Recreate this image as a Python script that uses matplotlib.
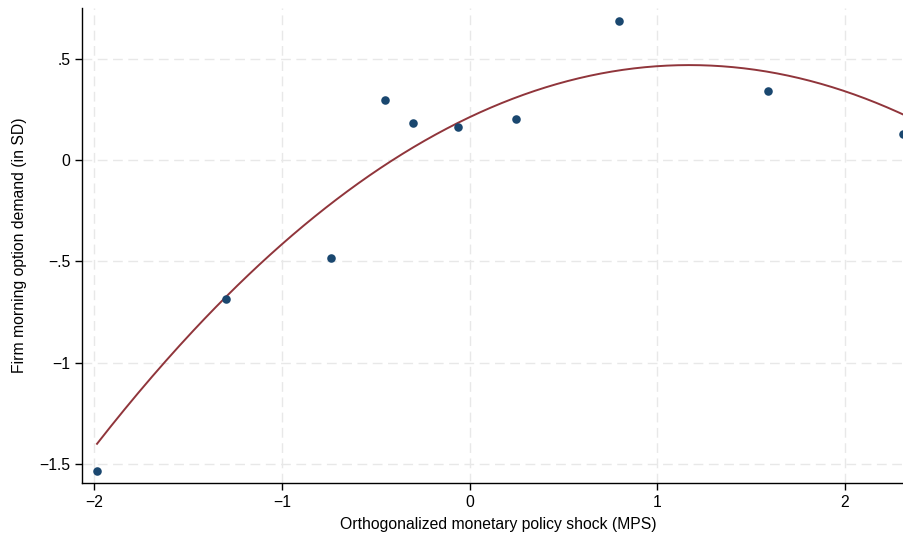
import numpy as np
import matplotlib
matplotlib.use("Agg")
import matplotlib.pyplot as plt

plt.rcParams['font.family'] = ['Liberation Sans', 'DejaVu Sans']

# Binned scatter points
bin_x = [-1.984, -1.298, -0.739, -0.452, -0.303, -0.064, 0.245, 0.798, 1.590, 2.310]
bin_y = [-1.535, -0.683, -0.485, 0.297, 0.183, 0.163, 0.203, 0.688, 0.342, 0.129]

# Quadratic fit coefficients: y = c0 + c1*x + c2*x^2
fit_coef = [0.2126, 0.440, -0.188]
fit_range = [-1.984, 2.40]

xticks = [-2, -1, 0, 1, 2]
xticklabels = ['\u22122', '\u22121', '0', '1', '2']
yticks = [-1.5, -1, -0.5, 0, 0.5]
yticklabels = ['\u22121.5', '\u22121', '\u2212.5', '0', '.5']

fig = plt.figure(figsize=(9.04, 5.38), dpi=100)
ax = fig.add_axes([82/904, 55/538, 1 - 82/904, (483-8)/538])

xs = np.linspace(fit_range[0], fit_range[1], 300)
ys = fit_coef[0] + fit_coef[1]*xs + fit_coef[2]*xs**2
ax.plot(xs, ys, color='#90353b', lw=1.4, zorder=3)
ax.scatter(bin_x, bin_y, s=38, color='#1a476f', zorder=4, linewidths=0, clip_on=True)

ax.set_xlim(-2.064, 2.314)
ax.set_ylim(-1.594, 0.752)
ax.set_xticks(xticks)
ax.set_xticklabels(xticklabels)
ax.set_yticks(yticks)
ax.set_yticklabels(yticklabels)

ax.grid(True, color='#e8e8e8', linestyle=(0, (7, 4)), lw=1.0, zorder=0)
ax.set_axisbelow(True)
for s in ['top', 'right']:
    ax.spines[s].set_visible(False)
for s in ['left', 'bottom']:
    ax.spines[s].set_color('black')
    ax.spines[s].set_linewidth(1.0)
ax.tick_params(direction='out', length=5, width=1.0, labelsize=11.3, colors='black')

ax.set_xlabel('Orthogonalized monetary policy shock (MPS)', fontsize=11.3)
ax.xaxis.set_label_coords((498 - 82) / 822, -(524 - 483) / 475)
ax.xaxis.label.set_va('center')
ax.set_ylabel('Firm morning option demand (in SD)', fontsize=11.3, labelpad=9)

fig.savefig('out.png', dpi=100)
